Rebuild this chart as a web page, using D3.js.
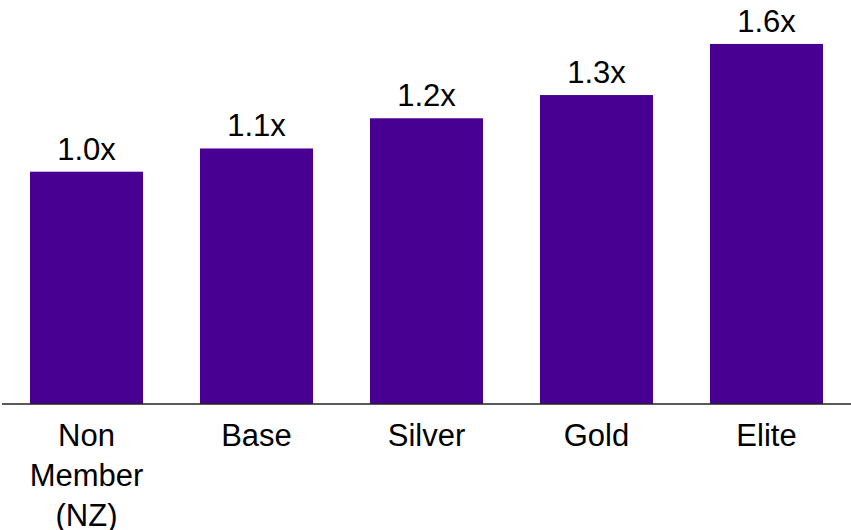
<!DOCTYPE html>
<html>
<head>
<meta charset="utf-8">
<script src="https://d3js.org/d3.v7.min.js"></script>
<style>
  body { margin: 0; background: #fff; }
  svg { display: block; }
  .axis text { font-family: Arial, 'Liberation Sans', sans-serif; font-size: 31px; fill: #000; }
  .value { font-family: Arial, 'Liberation Sans', sans-serif; font-size: 31px; fill: #000; }
</style>
</head>
<body>
<div id="chart"></div>
<script>
  // data
  var categories = ["Non Member (NZ)", "Base", "Silver", "Gold", "Elite"];
  var multipliers = [1.0, 1.10, 1.23, 1.33, 1.55];
  var valueLabels = ["1.0x", "1.1x", "1.2x", "1.3x", "1.6x"];
  var tickLines = {"Non Member (NZ)": ["Non", "Member", "(NZ)"]};

  var width = 851, height = 530,
      baseline = 404;

  var svg = d3.select("#chart").append("svg")
    .attr("width", width)
    .attr("height", height);

  var x = d3.scaleBand()
    .domain(categories)
    .range([30, 823])
    .paddingInner(0.335)
    .paddingOuter(0);

  var y = d3.scaleLinear()
    .domain([0, 1.6])
    .range([baseline, baseline - 1.6 * 232.3]);

  // bars
  svg.append("g")
    .selectAll("rect")
    .data(categories)
    .join("rect")
    .attr("x", d => x(d))
    .attr("y", (d, i) => y(multipliers[i]))
    .attr("width", x.bandwidth())
    .attr("height", (d, i) => y(0) - y(multipliers[i]))
    .style("fill", "#480092");

  // value labels above bars
  svg.append("g")
    .selectAll("text")
    .data(categories)
    .join("text")
    .attr("class", "value")
    .attr("x", d => x(d) + x.bandwidth() / 2)
    .attr("y", (d, i) => y(multipliers[i]) - 12)
    .attr("text-anchor", "middle")
    .text((d, i) => valueLabels[i]);

  // x axis
  var axis = svg.append("g")
    .attr("class", "axis")
    .attr("transform", "translate(0," + baseline + ")")
    .call(d3.axisBottom(x).tickSize(0).tickSizeOuter(0).tickFormat(""));

  axis.select(".domain").remove();
  axis.append("line")
    .attr("x1", 2)
    .attr("x2", width)
    .attr("stroke", "#222")
    .attr("stroke-width", 1.5);

  axis.selectAll(".tick").each(function (d) {
    var lines = tickLines[d] || [d];
    var t = d3.select(this).select("text")
      .attr("y", 0)
      .attr("dy", null);
    lines.forEach(function (line, i) {
      t.append("tspan")
        .attr("x", 0)
        .attr("y", 42 + i * 40)
        .text(line);
    });
  });
</script>
</body>
</html>
